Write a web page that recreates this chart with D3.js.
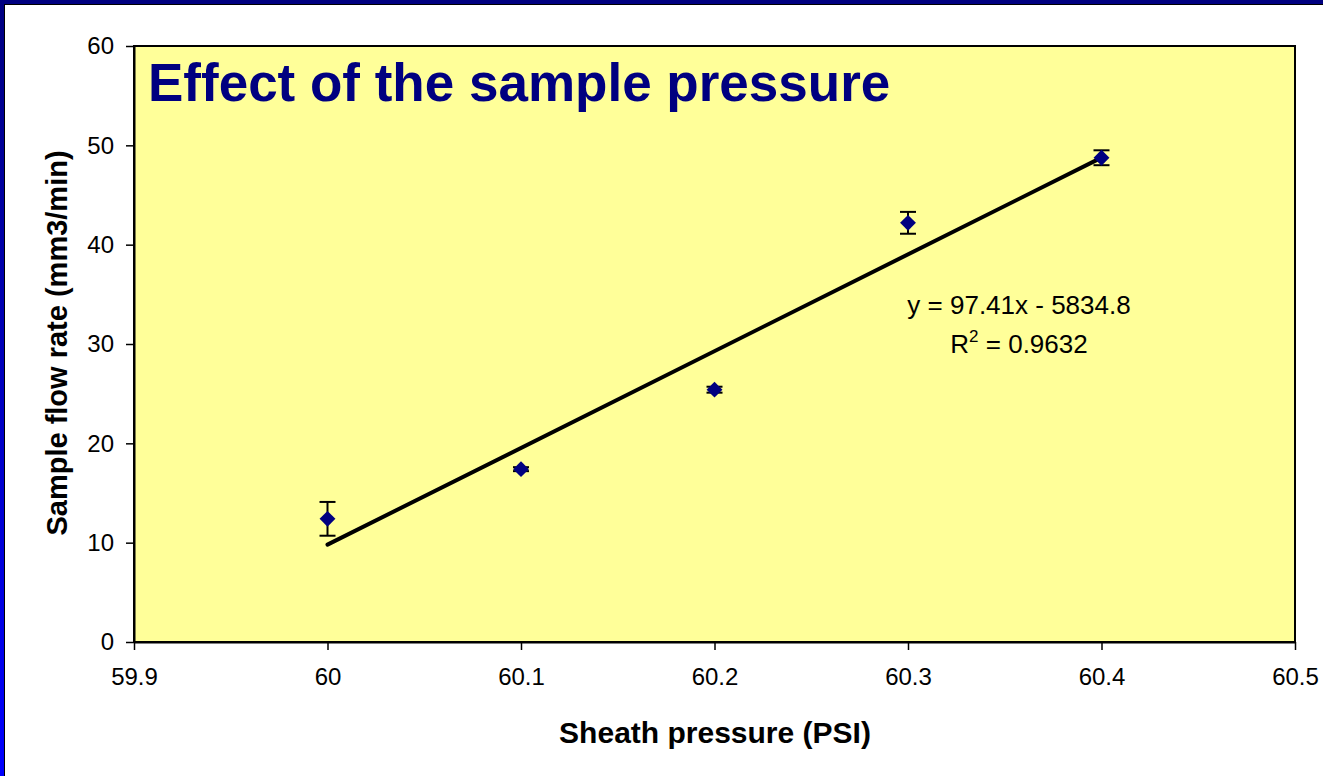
<!DOCTYPE html>
<html><head><meta charset="utf-8">
<script src="https://cdn.jsdelivr.net/npm/d3@7"></script>
<style>body{margin:0;background:#fff;} svg{display:block;font-family:Arial,"Liberation Sans",sans-serif;}</style>
</head><body>
<script>
const xValues = [60.0, 60.1, 60.2, 60.3, 60.4];
const yValues = [12.4, 17.4, 25.4, 42.2, 48.75];
const yErrors = [1.7, 0.2, 0.3, 1.1, 0.75];
const xTicks = [59.9, 60.0, 60.1, 60.2, 60.3, 60.4, 60.5];
const yTicks = [0, 10, 20, 30, 40, 50, 60];
const slope = 97.41, intercept = -5834.8, r2 = "0.9632";
const titleText = "Effect of the sample pressure";
const xTitle = "Sheath pressure (PSI)";
const yTitle = "Sample flow rate (mm3/min)";

const W = 1323, H = 776;
const svg = d3.select("body").append("svg").attr("width", W).attr("height", H);
const defs = svg.append("defs");
const g = defs.append("linearGradient").attr("id","lb").attr("x1",0).attr("y1",0).attr("x2",0).attr("y2",1);
g.append("stop").attr("offset","0%").attr("stop-color","#000080");
g.append("stop").attr("offset","100%").attr("stop-color","#0000ff");

svg.append("rect").attr("width",W).attr("height",H).attr("fill","#fff");
// frame
svg.append("rect").attr("x",0).attr("y",0).attr("width",W).attr("height",4).attr("fill","#000080");
svg.append("rect").attr("x",0).attr("y",4).attr("width",W).attr("height",1).attr("fill","#000");
svg.append("rect").attr("x",0).attr("y",0).attr("width",4).attr("height",H).attr("fill","url(#lb)");
svg.append("rect").attr("x",4).attr("y",4).attr("width",1).attr("height",H).attr("fill","#000");

const L = 134, R = 1295, T = 46, B = 642;
const x = d3.scaleLinear().domain([59.9, 60.5]).range([L, R]);
const y = d3.scaleLinear().domain([0, 60]).range([B, T]);

svg.append("rect").attr("x",L).attr("y",T).attr("width",R-L).attr("height",B-T)
  .attr("fill","#ffff99").attr("stroke","#000").attr("stroke-width",2);

const xAxis = svg.append("g").attr("transform",`translate(0,${B})`)
  .call(d3.axisBottom(x).tickValues(xTicks).tickFormat(d => String(+d.toFixed(1))).tickSize(8).tickSizeOuter(0).tickPadding(18));
const yAxis = svg.append("g").attr("transform",`translate(${L},0)`)
  .call(d3.axisLeft(y).tickValues(yTicks).tickSize(8).tickSizeOuter(0).tickPadding(12));
[xAxis, yAxis].forEach(a => {
  a.attr("font-size",24).attr("font-family","Arial,'Liberation Sans',sans-serif");
  a.select(".domain").attr("stroke","#000").attr("stroke-width",2);
  a.selectAll(".tick line").attr("stroke","#000").attr("stroke-width",1.5);
  a.selectAll("text").attr("fill","#000");
});

// trendline
svg.append("line")
  .attr("x1",x(xValues[0])).attr("y1",y(slope*xValues[0]+intercept))
  .attr("x2",x(xValues[xValues.length-1])).attr("y2",y(slope*xValues[xValues.length-1]+intercept))
  .attr("stroke","#000").attr("stroke-width",4).attr("stroke-linecap","round");

// error bars
const data = xValues.map((v,i)=>({x:v,y:yValues[i],e:yErrors[i]}));
const eb = svg.append("g").attr("stroke","#000").attr("stroke-width",2);
data.forEach(d=>{
  eb.append("line").attr("x1",x(d.x)).attr("x2",x(d.x)).attr("y1",y(d.y+d.e)).attr("y2",y(d.y-d.e));
  [d.y+d.e, d.y-d.e].forEach(v=>eb.append("line").attr("x1",x(d.x)-8).attr("x2",x(d.x)+8).attr("y1",y(v)).attr("y2",y(v)));
});
svg.append("g").selectAll("path").data(data).join("path")
  .attr("d", d3.symbol().type(d3.symbolDiamond2).size(160))
  .attr("transform", d=>`translate(${x(d.x)},${y(d.y)})`)
  .attr("fill","#000080");

// title
svg.append("text").attr("x",148).attr("y",101).attr("font-size",53).attr("font-weight","bold")
  .attr("fill","#000080").text(titleText);

// equation
const eq = svg.append("g").attr("font-size",26).attr("fill","#000").attr("text-anchor","middle");
eq.append("text").attr("x",1019).attr("y",314).text(`y = ${slope}x - ${Math.abs(intercept)}`);
const t2 = eq.append("text").attr("x",1019).attr("y",353);
t2.append("tspan").text("R");
t2.append("tspan").attr("font-size",17).attr("dy",-11).text("2");
t2.append("tspan").attr("dy",11).text(" = " + r2);

// axis titles
svg.append("text").attr("x",715).attr("y",743).attr("text-anchor","middle").attr("font-size",30)
  .attr("font-weight","bold").text(xTitle);
svg.append("text").attr("transform","translate(67,343) rotate(-90)").attr("text-anchor","middle")
  .attr("font-size",29).attr("font-weight","bold").text(yTitle);
</script>
</body></html>
